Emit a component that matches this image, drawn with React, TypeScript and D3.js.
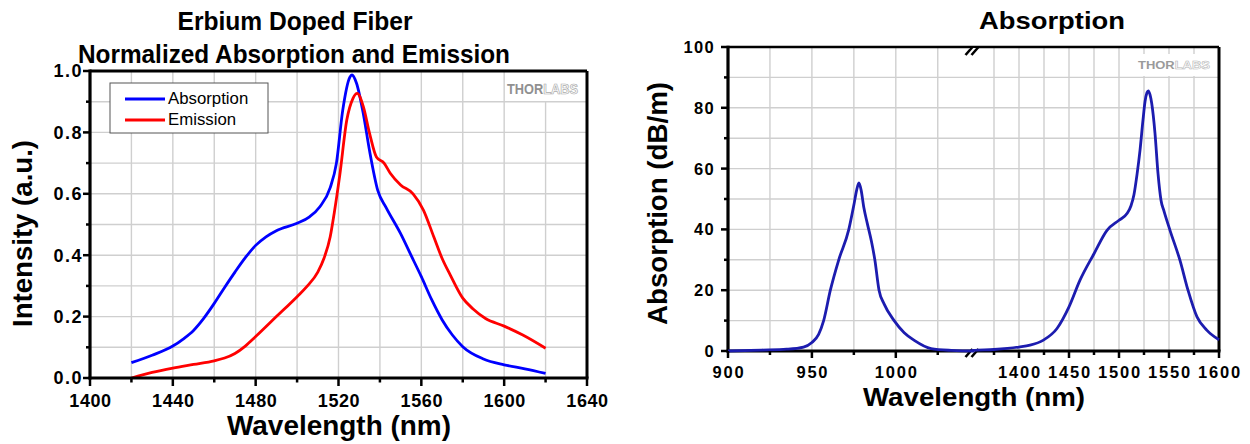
import React from 'react';
import * as d3 from 'd3';

const FONT = "'Liberation Sans', Arial, Helvetica, sans-serif";

// ---------- Left chart data (normalized) ----------
const leftTitle = ['Erbium Doped Fiber', 'Normalized Absorption and Emission'];
const legendLabels = ['Absorption', 'Emission'];
const absNormWavelength = [1420, 1430, 1440, 1445, 1450, 1455, 1460, 1465, 1470, 1475, 1480, 1485, 1490, 1500, 1506, 1511, 1516, 1519, 1522, 1525.5, 1526.5, 1528.7, 1532, 1535, 1539, 1543, 1550, 1555, 1560, 1565, 1570, 1575, 1580, 1590, 1600, 1610, 1620];
const absNormValue = [0.05, 0.074, 0.104, 0.127, 0.155, 0.195, 0.243, 0.295, 0.345, 0.392, 0.432, 0.46, 0.48, 0.504, 0.525, 0.558, 0.62, 0.70, 0.87, 0.98, 0.987, 0.96, 0.86, 0.74, 0.61, 0.555, 0.47, 0.40, 0.33, 0.255, 0.19, 0.14, 0.102, 0.062, 0.043, 0.03, 0.015];
const emWavelength = [1420, 1430, 1440, 1450, 1460, 1465, 1470, 1475, 1480, 1490, 1500, 1505, 1510, 1513, 1516, 1518, 1520.6, 1524, 1527, 1529, 1532, 1535, 1538.3, 1542, 1545, 1550, 1556, 1561, 1566, 1570, 1574, 1580, 1585, 1591, 1600, 1609, 1620];
const emValue = [0, 0.018, 0.032, 0.044, 0.056, 0.065, 0.08, 0.104, 0.135, 0.2, 0.265, 0.30, 0.345, 0.39, 0.46, 0.54, 0.66, 0.84, 0.911, 0.927, 0.884, 0.797, 0.72, 0.70, 0.667, 0.629, 0.60, 0.547, 0.46, 0.39, 0.335, 0.26, 0.225, 0.194, 0.169, 0.14, 0.097];
const leftXTicks = [1400, 1440, 1480, 1520, 1560, 1600, 1640];
const leftXMinor = [1420, 1460, 1500, 1540, 1580, 1620];
const leftYTicks = [0, 0.2, 0.4, 0.6, 0.8, 1.0];
const leftYMinor = [0.1, 0.3, 0.5, 0.7, 0.9];

// ---------- Right chart data (dB/m) ----------
const rightTitle = 'Absorption';
const pumpWavelength = [900, 920, 935, 945, 950, 954, 957, 961, 966, 972, 975, 976.7, 978, 979.3, 981, 983, 985.5, 987.5, 990, 993, 999, 1005, 1011, 1021, 1033, 1046];
const pumpValue = [0, 0.3, 0.6, 1.3, 2.8, 5.5, 10, 20, 30, 40, 48, 53, 55.3, 53, 47, 42, 36, 30, 20, 15.5, 10, 6, 3.5, 0.8, 0.2, 0];
const signalWavelength = [1354, 1375, 1400, 1411, 1424, 1438, 1450, 1461, 1475, 1488, 1500, 1508, 1512, 1515, 1518, 1521, 1524, 1526, 1528, 1529.3, 1531, 1532.7, 1536, 1539, 1542, 1545, 1551, 1561, 1569, 1578, 1588, 1600];
const signalValue = [0.2, 0.5, 1.3, 1.9, 3.5, 7.4, 14.5, 23.3, 32, 39.7, 43, 45.2, 47.8, 51.5, 58, 66, 76, 82, 85, 85.6, 84.3, 81.5, 71.6, 58.4, 49.6, 46, 39.7, 29.8, 20, 11.2, 6.8, 3.7];
const rightXTicks1 = [900, 950, 1000];
const rightXMinor1 = [925, 975, 1025];
const rightXTicks2 = [1400, 1450, 1500, 1550, 1600];
const rightXMinor2 = [1375, 1425, 1475, 1525, 1575];
const rightYTicks = [0, 20, 40, 60, 80, 100];
const rightYMinor = [10, 30, 50, 70, 90];

const GRID = '#cfcfcf';

function LeftChart() {
  const x = d3.scaleLinear().domain([1400, 1640]).range([90, 587]);
  const y = d3.scaleLinear().domain([0, 1]).range([378, 71]);
  const line = d3.line<[number, number]>().x(d => x(d[0])).y(d => y(d[1])).curve(d3.curveMonotoneX);
  const absPts = absNormWavelength.map((w, i) => [w, absNormValue[i]] as [number, number]);
  const emPts = emWavelength.map((w, i) => [w, emValue[i]] as [number, number]);
  const vGrid = d3.range(1420, 1640, 20);
  const hGrid = d3.range(1, 10).map(i => i / 10);
  const [x0, x1] = x.range();
  const [y0, y1] = y.range();
  return (
    <g>
      {vGrid.map(v => <line key={'vg' + v} x1={x(v)} x2={x(v)} y1={y1} y2={y0} stroke={GRID} strokeWidth={1.4} />)}
      {hGrid.map(v => <line key={'hg' + v} x1={x0} x2={x1} y1={y(v)} y2={y(v)} stroke={GRID} strokeWidth={1.4} />)}
      <rect x={505} y={72} width={80} height={29} fill="#fff" />
      <text x={507} y={93.5} fontFamily={FONT} fontWeight="bold" fontSize={14} textLength={71} lengthAdjust="spacingAndGlyphs">
        <tspan fill="#909090">THOR</tspan>
        <tspan fill="#fff" stroke="#aaaaaa" strokeWidth={0.7}>LABS</tspan>
      </text>
      <path d={line(absPts) || ''} fill="none" stroke="#0000ff" strokeWidth={2.8} />
      <path d={line(emPts) || ''} fill="none" stroke="#ff0000" strokeWidth={2.8} />
      {/* legend */}
      <rect x={110} y={83} width={158} height={50} fill="#fff" stroke="#555" strokeWidth={1} />
      <line x1={125} x2={165} y1={99} y2={99} stroke="#0000ff" strokeWidth={3} />
      <line x1={125} x2={165} y1={120} y2={120} stroke="#ff0000" strokeWidth={3} />
      <text x={168} y={104} fontFamily={FONT} fontSize={16.8}>{legendLabels[0]}</text>
      <text x={168} y={125} fontFamily={FONT} fontSize={16.8}>{legendLabels[1]}</text>
      {/* frame */}
      <line x1={x0} x2={x1} y1={y1} y2={y1} stroke="#000" strokeWidth={3} />
      <line x1={x1} x2={x1} y1={y1} y2={y0} stroke="#000" strokeWidth={3} />
      <line x1={x0} x2={x0} y1={y1 - 1.5} y2={y0 + 1.5} stroke="#000" strokeWidth={3.2} />
      <line x1={x0 - 1.5} x2={x1 + 1.5} y1={y0} y2={y0} stroke="#000" strokeWidth={3.2} />
      {/* ticks */}
      {leftYTicks.map(v => (
        <g key={'yt' + v}>
          <line x1={x0 - 7} x2={x0} y1={y(v)} y2={y(v)} stroke="#000" strokeWidth={2.5} />
          <text x={83} y={y(v)} dy="0.36em" textAnchor="end" fontFamily={FONT} fontWeight="bold" fontSize={18} letterSpacing={1.5}>{v.toFixed(1)}</text>
        </g>
      ))}
      {leftYMinor.map(v => <line key={'ym' + v} x1={x0 - 4} x2={x0} y1={y(v)} y2={y(v)} stroke="#000" strokeWidth={2.5} />)}
      {leftXTicks.map(v => (
        <g key={'xt' + v}>
          <line x1={x(v)} x2={x(v)} y1={y0} y2={y0 + 8} stroke="#000" strokeWidth={2.5} />
          <text x={x(v) + 0.5} y={407} textAnchor="middle" fontFamily={FONT} fontWeight="bold" fontSize={18} letterSpacing={0.6}>{v}</text>
        </g>
      ))}
      {leftXMinor.map(v => <line key={'xm' + v} x1={x(v)} x2={x(v)} y1={y0} y2={y0 + 4.5} stroke="#000" strokeWidth={2.5} />)}
      {/* titles */}
      <text x={295} y={30} textAnchor="middle" fontFamily={FONT} fontWeight="bold" fontSize={25} textLength={235} lengthAdjust="spacingAndGlyphs">{leftTitle[0]}</text>
      <text x={294} y={63} textAnchor="middle" fontFamily={FONT} fontWeight="bold" fontSize={25.5} textLength={432} lengthAdjust="spacingAndGlyphs">{leftTitle[1]}</text>
      <text x={339} y={435} textAnchor="middle" fontFamily={FONT} fontWeight="bold" fontSize={27} textLength={224} lengthAdjust="spacingAndGlyphs">Wavelength (nm)</text>
      <text transform="translate(32,233.5) rotate(-90)" textAnchor="middle" fontFamily={FONT} fontWeight="bold" fontSize={27} textLength={187} lengthAdjust="spacingAndGlyphs">Intensity (a.u.)</text>
    </g>
  );
}

function RightChart() {
  const x1s = d3.scaleLinear().domain([900, 1046]).range([728, 973]);
  const x2s = d3.scaleLinear().domain([1354, 1600]).range([973, 1219]);
  const y = d3.scaleLinear().domain([0, 100]).range([351, 47]);
  const pts: [number, number][] = [
    ...pumpWavelength.map((w, i) => [x1s(w), y(pumpValue[i])] as [number, number]),
    ...signalWavelength.map((w, i) => [x2s(w), y(signalValue[i])] as [number, number]),
  ];
  const line = d3.line<[number, number]>().x(d => d[0]).y(d => d[1]).curve(d3.curveMonotoneX);
  const left = 728, right = 1219, top = y(100), bottom = y(0);
  const vGrid = [...[925, 950, 975, 1000, 1025].map(v => x1s(v)), ...d3.range(1375, 1600, 25).map(v => x2s(v))];
  const hGrid = d3.range(10, 100, 10);
  const breakX = 973;
  const slashes = (cy: number) => (
    <g>
      <rect x={breakX - 4} y={cy - 3} width={8} height={6} fill="#fff" />
      <line x1={breakX - 7.5} y1={cy + 4} x2={breakX - 0.5} y2={cy - 4} stroke="#000" strokeWidth={2.6} />
      <line x1={breakX - 1.5} y1={cy + 4} x2={breakX + 5.5} y2={cy - 4} stroke="#000" strokeWidth={2.6} />
    </g>
  );
  const tick = (px: number, len: number, key: string) => (
    <line key={key} x1={px} x2={px} y1={bottom} y2={bottom + len} stroke="#000" strokeWidth={2.5} />
  );
  return (
    <g>
      {vGrid.map((v, i) => <line key={'rvg' + i} x1={v} x2={v} y1={top} y2={bottom} stroke={GRID} strokeWidth={1.4} />)}
      {hGrid.map(v => <line key={'rhg' + v} x1={left} x2={right} y1={y(v)} y2={y(v)} stroke={GRID} strokeWidth={1.4} />)}
      <rect x={1134} y={54} width={82} height={22} fill="#fff" />
      <text x={1138} y={68.5} fontFamily={FONT} fontWeight="bold" fontSize={10} textLength={72} lengthAdjust="spacingAndGlyphs">
        <tspan fill="#9a9a9a">THOR</tspan>
        <tspan fill="#fff" stroke="#b5b5b5" strokeWidth={0.5}>LABS</tspan>
      </text>
      {/* frame */}
      <line x1={left} x2={right} y1={top} y2={top} stroke="#000" strokeWidth={2.6} />
      <line x1={right} x2={right} y1={top} y2={bottom} stroke="#000" strokeWidth={3} />
      <line x1={left} x2={left} y1={top - 1.3} y2={bottom + 1.5} stroke="#000" strokeWidth={3.2} />
      <line x1={left - 1.5} x2={right + 1.5} y1={bottom} y2={bottom} stroke="#000" strokeWidth={3.2} />
      {slashes(top + 4)}
      {slashes(bottom + 2)}
      <path d={line(pts) || ''} fill="none" stroke="#1c1caf" strokeWidth={2.8} />
      {/* y ticks */}
      {rightYTicks.map(v => (
        <g key={'ryt' + v}>
          <line x1={left - 7} x2={left} y1={y(v)} y2={y(v)} stroke="#000" strokeWidth={2.5} />
          <text x={715} y={y(v)} dy="0.36em" textAnchor="end" fontFamily={FONT} fontWeight="bold" fontSize={16.5} letterSpacing={1.3}>{v}</text>
        </g>
      ))}
      {rightYMinor.map(v => <line key={'rym' + v} x1={left - 4} x2={left} y1={y(v)} y2={y(v)} stroke="#000" strokeWidth={2.5} />)}
      {/* x ticks */}
      {rightXTicks1.map(v => (
        <g key={'rxt1' + v}>
          {tick(x1s(v), 7, 't' + v)}
          <text x={x1s(v) + 1} y={378} textAnchor="middle" fontFamily={FONT} fontWeight="bold" fontSize={16.5} letterSpacing={1.8}>{v}</text>
        </g>
      ))}
      {rightXMinor1.map(v => tick(x1s(v), 4, 'm1' + v))}
      {rightXTicks2.map(v => (
        <g key={'rxt2' + v}>
          {tick(x2s(v), 7, 't' + v)}
          <text x={x2s(v) + 1} y={378} textAnchor="middle" fontFamily={FONT} fontWeight="bold" fontSize={16.5} letterSpacing={1.8}>{v}</text>
        </g>
      ))}
      {rightXMinor2.map(v => tick(x2s(v), 4, 'm2' + v))}
      {/* labels */}
      <text x={1052} y={29} textAnchor="middle" fontFamily={FONT} fontWeight="bold" fontSize={24.5} textLength={146} lengthAdjust="spacingAndGlyphs">{rightTitle}</text>
      <text x={974} y={406} textAnchor="middle" fontFamily={FONT} fontWeight="bold" fontSize={25} textLength={222} lengthAdjust="spacingAndGlyphs">Wavelength (nm)</text>
      <text transform="translate(667,203.5) rotate(-90)" textAnchor="middle" fontFamily={FONT} fontWeight="bold" fontSize={27} textLength={243} lengthAdjust="spacingAndGlyphs">Absorption (dB/m)</text>
    </g>
  );
}

export default function App() {
  return (
    <svg width={1250} height={444} viewBox="0 0 1250 444" style={{ position: 'absolute', left: 0, top: 0, display: 'block', background: '#fff' }}>
      <rect x={0} y={0} width={1250} height={444} fill="#fff" />
      <LeftChart />
      <RightChart />
    </svg>
  );
}
